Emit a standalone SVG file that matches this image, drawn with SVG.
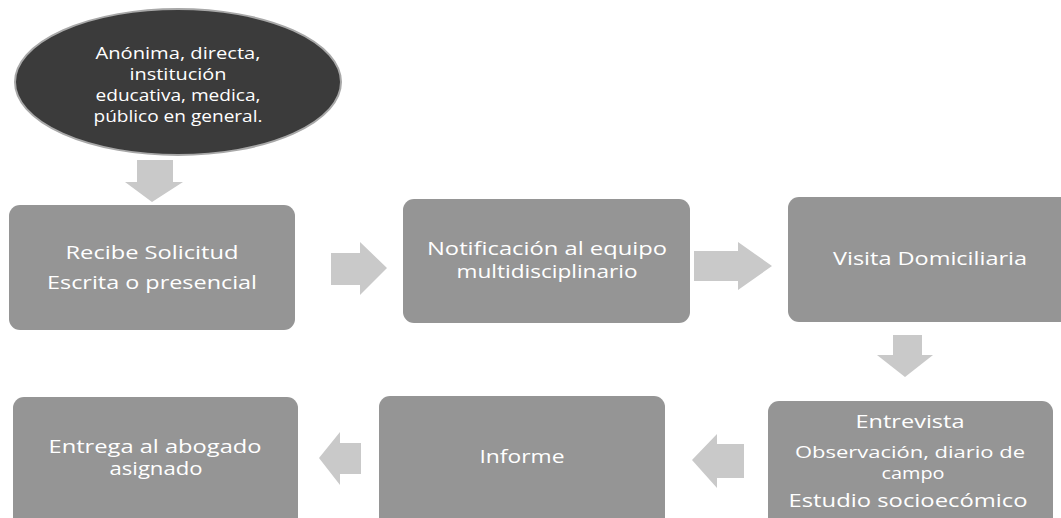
<svg xmlns="http://www.w3.org/2000/svg" width="1061" height="518" viewBox="0 0 1061 518">
<style>
.box{fill:#959595;}
.arr{fill:#c9c9c9;}
.t{font-family:"Open Sans","Liberation Sans",sans-serif;font-size:18px;fill:#ffffff;text-anchor:middle;}
.ts{font-family:"Open Sans","Liberation Sans",sans-serif;font-size:16px;fill:#ffffff;text-anchor:middle;}
.te{font-family:"Open Sans","Liberation Sans",sans-serif;font-size:16px;fill:#ffffff;text-anchor:middle;}
</style>
<rect width="1061" height="518" fill="#ffffff"/>
<g id="connectors">
<polygon class="arr" points="137,160 173,160 173,182 183,182 152,202 125,182 137,182"/>
<polygon class="arr" points="331,253 360,253 360,242 387,268 360,295 360,285 331,285"/>
<polygon class="arr" points="694,251 738,251 738,242 772,266 738,290 738,281 694,281"/>
<polygon class="arr" points="893,335 922,335 922,355 933,355 905,377 877,355 893,355"/>
<polygon class="arr" points="744,444 717,444 717,434 692,460 717,488 717,478 744,478"/>
<polygon class="arr" points="361,443 340,443 340,432 319,458 340,485 340,474 361,474"/>
</g>
<g id="origen">
<ellipse cx="178" cy="82" rx="163" ry="73" fill="#3b3b3b" stroke="#a8a8a8" stroke-width="2"/>
<text class="te" x="178" y="59" textLength="165" lengthAdjust="spacingAndGlyphs">Anónima, directa,</text>
<text class="te" x="178" y="80" textLength="97" lengthAdjust="spacingAndGlyphs">institución</text>
<text class="te" x="178" y="101" textLength="165" lengthAdjust="spacingAndGlyphs">educativa, medica,</text>
<text class="te" x="178" y="122" textLength="169" lengthAdjust="spacingAndGlyphs">público en general.</text>
</g>
<g id="recibe">
<rect class="box" x="9" y="205" width="286" height="125" rx="11"/>
<text class="t" x="152" y="259" textLength="173" lengthAdjust="spacingAndGlyphs">Recibe Solicitud</text>
<text class="t" x="152" y="289" textLength="210" lengthAdjust="spacingAndGlyphs">Escrita o presencial</text>
</g>
<g id="notificacion">
<rect class="box" x="403" y="199" width="287" height="124" rx="11"/>
<text class="t" x="547" y="255" textLength="240" lengthAdjust="spacingAndGlyphs">Notificación al equipo</text>
<text class="t" x="547" y="278" textLength="181" lengthAdjust="spacingAndGlyphs">multidisciplinario</text>
</g>
<g id="visita">
<rect class="box" x="788" y="197" width="290" height="125" rx="11"/>
<text class="t" x="930" y="265" textLength="194" lengthAdjust="spacingAndGlyphs">Visita Domiciliaria</text>
</g>
<g id="entrevista">
<rect class="box" x="768" y="401" width="285" height="130" rx="11"/>
<text class="t" x="910" y="428" textLength="109" lengthAdjust="spacingAndGlyphs">Entrevista</text>
<text class="ts" x="910" y="458" textLength="230" lengthAdjust="spacingAndGlyphs">Observación, diario de</text>
<text class="ts" x="913" y="479" textLength="63" lengthAdjust="spacingAndGlyphs">campo</text>
<text class="t" x="908" y="507" textLength="239" lengthAdjust="spacingAndGlyphs">Estudio socioecómico</text>
</g>
<g id="informe">
<rect class="box" x="379" y="396" width="286" height="132" rx="11"/>
<text class="t" x="522" y="463" textLength="85" lengthAdjust="spacingAndGlyphs">Informe</text>
</g>
<g id="entrega">
<rect class="box" x="13" y="397" width="285" height="131" rx="11"/>
<text class="t" x="155" y="453" textLength="213" lengthAdjust="spacingAndGlyphs">Entrega al abogado</text>
<text class="t" x="156" y="475" textLength="93" lengthAdjust="spacingAndGlyphs">asignado</text>
</g>
</svg>
